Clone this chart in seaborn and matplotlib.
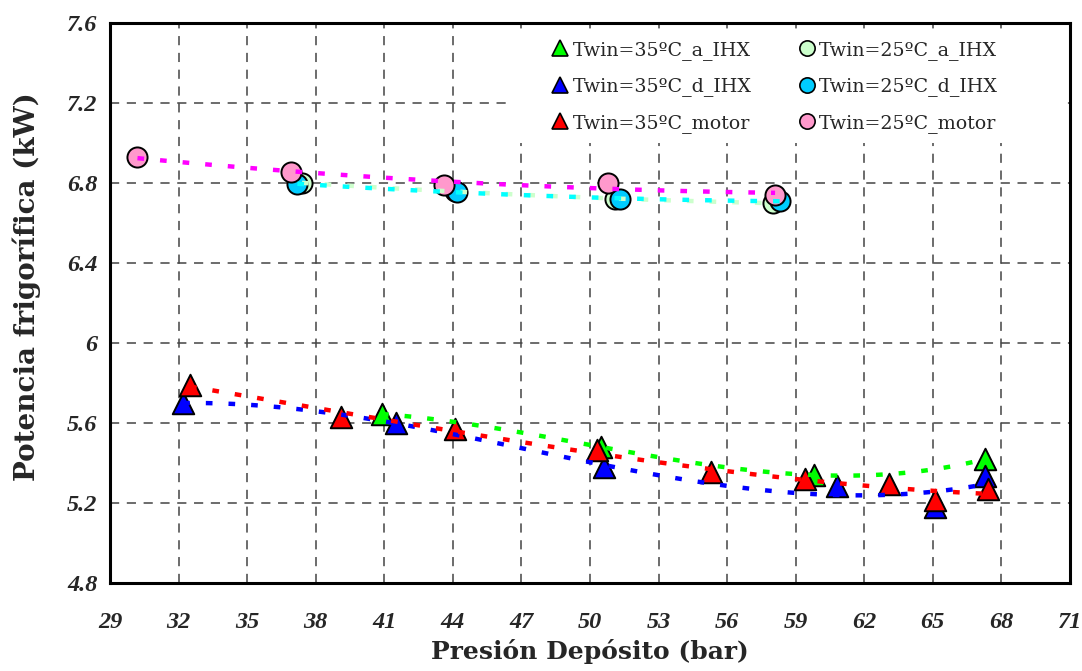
import numpy as np
import pandas as pd
import matplotlib
matplotlib.use("Agg")
import matplotlib.pyplot as plt
from matplotlib.lines import Line2D
from matplotlib.patches import Rectangle
import seaborn as sns

# Refrigeration capacity vs. receiver pressure
p35_a_ihx = [40.9, 50.5, 59.8, 67.3]
q35_a_ihx = [5.645, 5.48, 5.34, 5.42]

p35_d_ihx = [32.2, 41.5, 50.6, 60.8, 65.1, 67.3]
q35_d_ihx = [5.70, 5.60, 5.38, 5.285, 5.18, 5.335]

p35_motor = [32.5, 39.1, 44.1, 50.3, 55.3, 59.4, 63.1, 65.1, 67.4]
q35_motor = [5.79, 5.63, 5.57, 5.465, 5.355, 5.32, 5.295, 5.215, 5.27]

p25_a_ihx = [37.4, 44.1, 51.1, 58.0]
q25_a_ihx = [6.80, 6.76, 6.72, 6.70]

p25_d_ihx = [37.2, 44.2, 51.3, 58.3]
q25_d_ihx = [6.795, 6.757, 6.72, 6.71]

p25_motor = [30.2, 36.9, 43.6, 50.8, 58.1]
q25_motor = [6.93, 6.855, 6.79, 6.80, 6.74]

labels = ["Twin=35ºC_a_IHX", "Twin=35ºC_d_IHX", "Twin=35ºC_motor",
          "Twin=25ºC_a_IHX", "Twin=25ºC_d_IHX", "Twin=25ºC_motor"]

x_ticks = [29, 32, 35, 38, 41, 44, 47, 50, 53, 56, 59, 62, 65, 68, 71]
y_ticks = [4.8, 5.2, 5.6, 6.0, 6.4, 6.8, 7.2, 7.6]
y_tick_labels = ["4.8", "5.2", "5.6", "6", "6.4", "6.8", "7.2", "7.6"]

sns.set_theme(style="white")
plt.rcParams["font.family"] = ["DejaVu Serif"]

# (x, y, marker, fill colour, trend colour, trend order)
series = [
    (p35_a_ihx, q35_a_ihx, "^", "#00FF00", "#00FF00", 3),
    (p35_d_ihx, q35_d_ihx, "^", "#0000FF", "#0000FF", 3),
    (p35_motor, q35_motor, "^", "#FF0000", "#FF0000", 3),
    (p25_a_ihx, q25_a_ihx, "o", "#CCFFCC", "#CCFFCC", 2),
    (p25_d_ihx, q25_d_ihx, "o", "#00CCFF", "#00FFFF", 2),
    (p25_motor, q25_motor, "o", "#FF99CC", "#FF00FF", 2),
]

fig = plt.figure(figsize=(10.82, 6.71), dpi=100)
ax = fig.add_axes([0.1017, 0.1311, 0.8871, 0.8346])

for x, y, mk, fc, lc, order in series:
    df = pd.DataFrame({"p": x, "q": y})
    size = 240 if mk == "^" else 210
    sns.scatterplot(data=df, x="p", y="q", marker=mk, s=size, color=fc,
                    edgecolor="black", linewidth=1.4, ax=ax, zorder=3,
                    legend=False)

# polynomial trend lines
for x, y, mk, fc, lc, order in series:
    df = pd.DataFrame({"p": x, "q": y})
    sns.regplot(data=df, x="p", y="q", order=order, ci=None, scatter=False,
                truncate=True, ax=ax,
                line_kws=dict(color=lc, lw=3.2, linestyle=(0, (1.5, 3.6)),
                              dash_capstyle="butt", zorder=4))

ax.set_xlim(29, 71)
ax.set_ylim(4.8, 7.6)
ax.set_xticks(x_ticks)
ax.set_xticklabels([str(t) for t in x_ticks])
ax.set_yticks(y_ticks)
ax.set_yticklabels(y_tick_labels)

ax.grid(True, color="#444444", lw=1.1, linestyle=(0, (6, 5)))
ax.set_axisbelow(True)

for s in ax.spines.values():
    s.set_visible(True)
    s.set_color("black")
    s.set_linewidth(2.2)

ax.tick_params(axis="x", direction="inout", length=14, width=1, color="#333333",
               pad=14)
ax.tick_params(axis="y", direction="out", length=7, width=1, color="#333333",
               pad=2)
for lab in ax.get_xticklabels() + ax.get_yticklabels():
    lab.set_fontfamily("Liberation Serif")
    lab.set_fontweight("bold")
    lab.set_fontstyle("italic")
    lab.set_fontsize(17.5)

ax.set_xlabel("Presión Depósito (bar)", fontsize=18, fontweight="bold",
              labelpad=4)
ax.set_ylabel("Potencia frigorífica (kW)", fontsize=20, fontweight="bold")
ax.yaxis.set_label_coords(-0.072, 0.529)

# white box behind the legend entries
ax.add_patch(Rectangle((0.42, 0.786), 0.575, 0.2015, transform=ax.transAxes,
                       facecolor="white", edgecolor="none", zorder=1))

handles = []
for (x, y, mk, fc, lc, order), lab in zip(series, labels):
    handles.append(Line2D([], [], marker=mk, linestyle="none",
                          markerfacecolor=fc, markeredgecolor="black",
                          markeredgewidth=1.2, markersize=11, label=lab))

leg = ax.legend(handles=handles, ncol=2, loc="upper left",
                bbox_to_anchor=(0.457, 0.968), frameon=False,
                prop={"family": "DejaVu Serif", "size": 13.7},
                handletextpad=0.05, handlelength=1.2, columnspacing=2.3,
                labelspacing=0.92, borderpad=0, borderaxespad=0)
leg.set_zorder(5)

fig.savefig("out.png", dpi=100)
